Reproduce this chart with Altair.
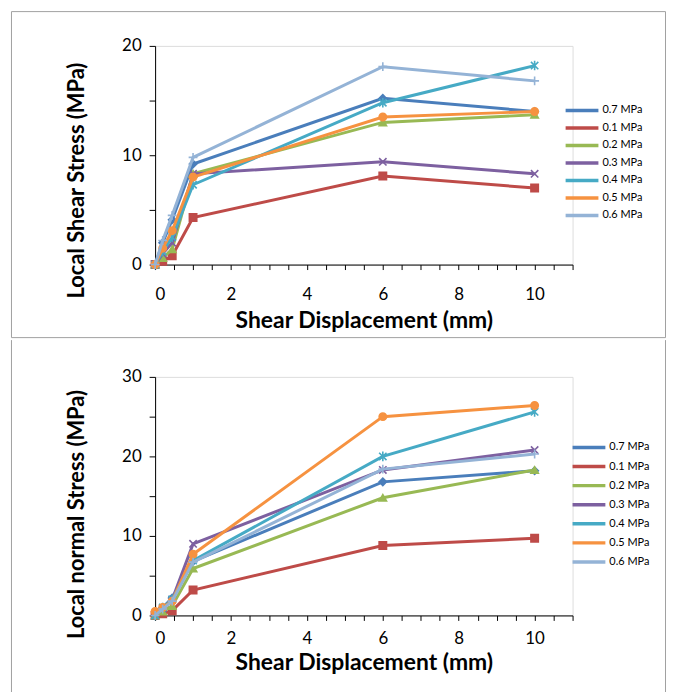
import altair as alt
import pandas as pd

# ---- data ----
disp = [0, 0.2, 0.45, 1, 6, 10]
series = ["0.7 MPa", "0.1 MPa", "0.2 MPa", "0.3 MPa", "0.4 MPa", "0.5 MPa", "0.6 MPa"]
colors = ["#4A7EBB", "#BE4B48", "#98B954", "#7D60A0", "#46AAC5", "#F69240", "#94B3D6"]

shear_07 = [0, 2.0, 4.1, 9.2, 15.2, 14.0]
shear_01 = [0, 0.3, 0.8, 4.3, 8.1, 7.0]
shear_02 = [0, 0.6, 1.4, 8.3, 13.0, 13.7]
shear_03 = [0, 1.0, 2.0, 8.3, 9.4, 8.3]
shear_04 = [0, 1.2, 2.5, 7.3, 14.8, 18.2]
shear_05 = [0, 1.5, 3.1, 8.0, 13.5, 14.0]
shear_06 = [0, 2.2, 4.5, 9.8, 18.1, 16.8]

normal_07 = [0, 1.0, 2.2, 6.8, 16.8, 18.2]
normal_01 = [0, 0.2, 0.6, 3.2, 8.8, 9.7]
normal_02 = [0, 0.5, 1.2, 5.9, 14.8, 18.3]
normal_03 = [0, 0.9, 2.0, 9.0, 18.3, 20.8]
normal_04 = [0, 1.0, 2.0, 6.9, 20.0, 25.6]
normal_05 = [0.5, 1.0, 1.8, 7.7, 25.0, 26.4]
normal_06 = [0, 0.8, 1.8, 6.7, 18.4, 20.3]

shear_sets = [shear_07, shear_01, shear_02, shear_03, shear_04, shear_05, shear_06]
normal_sets = [normal_07, normal_01, normal_02, normal_03, normal_04, normal_05, normal_06]

X_PATH = "M-1,-1L1,1M-1,1L1,-1"
AST_PATH = "M-1,-1L1,1M-1,1L1,-1M0,-1.3L0,1.3"
PLUS_PATH = "M-1.2,0L1.2,0M0,-1.2L0,1.2"
shapes = ["diamond", "square", "triangle-up", X_PATH, AST_PATH, "circle", PLUS_PATH]

FONT = "Lato"
FRAME = "#A0A0A0"


def long_table(sets):
    rows = []
    for k, (name, vals) in enumerate(zip(series, sets)):
        for i, (x, y) in enumerate(zip(disp, vals)):
            rows.append({"x": x, "y": y, "series": name, "order": k * 10 + i})
    return pd.DataFrame(rows)


def panel(df, ytitle, ymax, height, legend_x, legend_y, row_pad,
          x_label_pad, x_title_pad, y_title_y, frame):
    xs = alt.Scale(domain=[0, 11], nice=False, zero=True)
    ys = alt.Scale(domain=[0, ymax], nice=False)
    cs = alt.Scale(domain=series, range=colors)
    xaxis = alt.Axis(
        values=[i * 0.5 for i in range(23)],
        labelExpr="(datum.value % 2 == 0 && datum.value <= 10) ? format(datum.value, 'd') : ''",
        title="Shear Displacement (mm)", grid=False,
        tickSize=5, tickColor="#000", domainColor="#000",
        labelFont=FONT, labelFontSize=17, labelColor="#000", labelPadding=x_label_pad,
        titleFont=FONT, titleFontSize=23, titleFontWeight="bold", titleColor="#000",
        titlePadding=x_title_pad,
    )
    yaxis = alt.Axis(
        values=list(range(0, ymax + 1, 5)),
        labelExpr="datum.value % 10 == 0 ? datum.label : ''",
        title=ytitle, grid=False,
        tickSize=6, tickColor="#000", domainColor="#000",
        labelFont=FONT, labelFontSize=17, labelColor="#000", labelPadding=8,
        titleFont=FONT, titleFontSize=22, titleFontWeight="bold", titleColor="#000",
        titlePadding=33, titleY=y_title_y,
    )
    legend = alt.Legend(
        title=None, orient="none", legendX=legend_x, legendY=legend_y,
        symbolType="stroke", symbolSize=1089, symbolStrokeWidth=3.5,
        clipHeight=12, rowPadding=row_pad, labelFont=FONT, labelFontSize=11,
        labelColor="#000", labelOffset=2,
    )
    base = alt.Chart(df).encode(
        x=alt.X("x:Q", scale=xs, axis=xaxis),
        y=alt.Y("y:Q", scale=ys, axis=yaxis),
    )
    layers = [frame]
    for name, col, shp in zip(series, colors, shapes):
        sub = base.transform_filter(alt.datum.series == name)
        layers.append(
            sub.mark_line(strokeWidth=3).encode(
                color=alt.Color("series:N", scale=cs, legend=legend, sort=series),
                order=alt.Order("order:Q"),
            )
        )
        layers.append(
            sub.mark_point(filled=True, size=55, opacity=1, strokeWidth=1.6,
                           fill=col, stroke=col, shape=shp)
        )
    return alt.layer(*layers).properties(width=420, height=height)


one = pd.DataFrame({"a": [0]})
# top panel frame: full box
top_frame = alt.Chart(one).mark_rect(fill="transparent", stroke=FRAME, strokeWidth=1).encode(
    x=alt.value(-144.5), x2=alt.value(513.5), y=alt.value(-34.5), y2=alt.value(293.5)
)
# bottom panel frame: only its side edges (its top edge is the top panel's bottom edge)
bottom_frame = alt.layer(
    alt.Chart(one).mark_rule(stroke=FRAME, strokeWidth=1).encode(
        x=alt.value(-144.5), y=alt.value(-37), y2=alt.value(330)
    ),
    alt.Chart(one).mark_rule(stroke=FRAME, strokeWidth=1).encode(
        x=alt.value(513.5), y=alt.value(-37), y2=alt.value(330)
    ),
)

top = panel(long_table(shear_sets), "Local Shear Stress (MPa)", 20, 220,
            411, 59, 5.6, 17, 7, 135, top_frame)
bottom = panel(long_table(normal_sets), "Local normal Stress (MPa)", 30, 240,
               418, 65, 7.2, 10, 5, 138, bottom_frame)

chart = alt.vconcat(top, bottom, spacing=0).properties(
    padding={"left": 2, "top": 0, "right": 0, "bottom": 0}
).resolve_scale(color="independent").resolve_legend(color="independent").configure_view(
    stroke=None
).configure(background="white")

chart.save("out.html", embed_options={"renderer": "svg", "actions": False})
